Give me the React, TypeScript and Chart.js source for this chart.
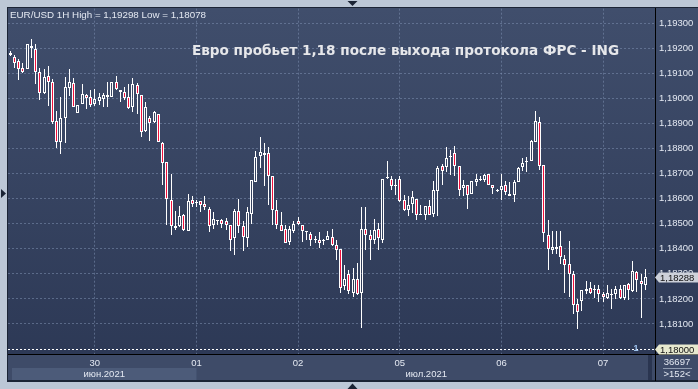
import React, { useEffect, useRef } from 'react';
import { Chart, registerables } from 'chart.js';

Chart.register(...registerables);

// ---- Data (EUR/USD 1H candles) ----
const opens = [
  1.19175, 1.19167, 1.19151, 1.19122, 1.19118, 1.19211, 1.19198, 1.19108, 1.19022, 1.19091,
  1.19065, 1.18912, 1.18828, 1.18921, 1.19042, 1.19062, 1.18941, 1.18978, 1.19014, 1.19005,
  1.18978, 1.18992, 1.18998, 1.19005, 1.19005, 1.19067, 1.19034, 1.19025, 1.19008, 1.18965,
  1.19055, 1.19014, 1.18872, 1.18923, 1.18905, 1.18939, 1.18823, 1.18746, 1.18597, 1.18484,
  1.18491, 1.18537, 1.18471, 1.18597, 1.18589, 1.18593, 1.18580, 1.18560, 1.18496, 1.18516,
  1.18514, 1.18510, 1.18494, 1.18445, 1.18551, 1.18490, 1.18443, 1.18540, 1.18666, 1.18770,
  1.18776, 1.18783, 1.18689, 1.18557, 1.18494, 1.18478, 1.18427, 1.18471, 1.18510, 1.18496,
  1.18470, 1.18458, 1.18438, 1.18434, 1.18434, 1.18434, 1.18447, 1.18414, 1.18398, 1.18252,
  1.18301, 1.18224, 1.18281, 1.18225, 1.18480, 1.18457, 1.18434, 1.18480, 1.18437, 1.18684,
  1.18677, 1.18656, 1.18680, 1.18596, 1.18557, 1.18580, 1.18600, 1.18540, 1.18536, 1.18570,
  1.18540, 1.18630, 1.18730, 1.18726, 1.18766, 1.18782, 1.18729, 1.18644, 1.18653, 1.18620,
  1.18666, 1.18676, 1.18673, 1.18697, 1.18653, 1.18636, 1.18633, 1.18653, 1.18620, 1.18613,
  1.18666, 1.18726, 1.18745, 1.18750, 1.18825, 1.18908, 1.18733, 1.18457, 1.18397, 1.18401,
  1.18413, 1.18361, 1.18341, 1.18298, 1.18178, 1.18192, 1.18232, 1.18245, 1.18235, 1.18241,
  1.18218, 1.18202, 1.18221, 1.18219, 1.18241, 1.18204, 1.18259, 1.18232, 1.18308, 1.18270,
  1.18255,
];
const highs = [
  1.19191, 1.19175, 1.19160, 1.19144, 1.19219, 1.19237, 1.19217, 1.19124, 1.19118, 1.19131,
  1.19078, 1.18949, 1.19008, 1.19087, 1.19118, 1.19084, 1.18976, 1.19058, 1.19018, 1.19034,
  1.19038, 1.19021, 1.19022, 1.19067, 1.19067, 1.19091, 1.19034, 1.19047, 1.19058, 1.19082,
  1.19061, 1.19014, 1.18985, 1.18932, 1.18952, 1.18939, 1.18825, 1.18746, 1.18697, 1.18553,
  1.18573, 1.18540, 1.18617, 1.18609, 1.18596, 1.18593, 1.18609, 1.18567, 1.18549, 1.18516,
  1.18520, 1.18523, 1.18494, 1.18560, 1.18600, 1.18511, 1.18569, 1.18673, 1.18790, 1.18848,
  1.18823, 1.18806, 1.18689, 1.18597, 1.18549, 1.18496, 1.18491, 1.18511, 1.18529, 1.18496,
  1.18470, 1.18467, 1.18450, 1.18467, 1.18441, 1.18471, 1.18478, 1.18434, 1.18398, 1.18337,
  1.18317, 1.18323, 1.18343, 1.18569, 1.18569, 1.18476, 1.18520, 1.18503, 1.18680, 1.18749,
  1.18690, 1.18677, 1.18690, 1.18616, 1.18610, 1.18629, 1.18600, 1.18577, 1.18573, 1.18597,
  1.18669, 1.18730, 1.18737, 1.18808, 1.18795, 1.18812, 1.18729, 1.18673, 1.18653, 1.18669,
  1.18697, 1.18689, 1.18697, 1.18697, 1.18656, 1.18640, 1.18697, 1.18669, 1.18666, 1.18673,
  1.18726, 1.18763, 1.18766, 1.18835, 1.18952, 1.18928, 1.18733, 1.18514, 1.18470, 1.18470,
  1.18470, 1.18377, 1.18430, 1.18310, 1.18199, 1.18237, 1.18270, 1.18268, 1.18255, 1.18255,
  1.18228, 1.18255, 1.18239, 1.18252, 1.18255, 1.18255, 1.18265, 1.18350, 1.18312, 1.18301,
  1.18321,
];
const lows = [
  1.19171, 1.19124, 1.19075, 1.19104, 1.19118, 1.19162, 1.19058, 1.18996, 1.19018, 1.18972,
  1.18899, 1.18802, 1.18779, 1.18821, 1.19012, 1.18965, 1.18941, 1.18978, 1.18959, 1.18965,
  1.18972, 1.18976, 1.18965, 1.18968, 1.19005, 1.19034, 1.18985, 1.18996, 1.18959, 1.18945,
  1.18939, 1.18848, 1.18868, 1.18832, 1.18901, 1.18825, 1.18653, 1.18494, 1.18457, 1.18474,
  1.18487, 1.18471, 1.18471, 1.18567, 1.18567, 1.18547, 1.18557, 1.18467, 1.18478, 1.18494,
  1.18484, 1.18474, 1.18391, 1.18374, 1.18465, 1.18391, 1.18407, 1.18498, 1.18666, 1.18723,
  1.18650, 1.18577, 1.18496, 1.18478, 1.18471, 1.18423, 1.18414, 1.18463, 1.18494, 1.18427,
  1.18434, 1.18410, 1.18423, 1.18405, 1.18417, 1.18434, 1.18410, 1.18357, 1.18224, 1.18235,
  1.18221, 1.18206, 1.18215, 1.18082, 1.18394, 1.18354, 1.18418, 1.18394, 1.18423, 1.18677,
  1.18633, 1.18616, 1.18586, 1.18553, 1.18533, 1.18544, 1.18517, 1.18536, 1.18514, 1.18536,
  1.18527, 1.18531, 1.18653, 1.18706, 1.18693, 1.18690, 1.18610, 1.18610, 1.18560, 1.18617,
  1.18649, 1.18669, 1.18666, 1.18653, 1.18620, 1.18626, 1.18597, 1.18613, 1.18610, 1.18586,
  1.18666, 1.18710, 1.18706, 1.18750, 1.18825, 1.18713, 1.18427, 1.18314, 1.18378, 1.18381,
  1.18341, 1.18224, 1.18208, 1.18138, 1.18078, 1.18152, 1.18219, 1.18221, 1.18204, 1.18186,
  1.18186, 1.18199, 1.18158, 1.18199, 1.18199, 1.18195, 1.18195, 1.18228, 1.18228, 1.18122,
  1.18237,
];
const closes = [
  1.19183, 1.19144, 1.19118, 1.19108, 1.19217, 1.19202, 1.19108, 1.19022, 1.19087, 1.19065,
  1.18905, 1.18828, 1.18921, 1.19047, 1.19067, 1.18965, 1.18976, 1.19018, 1.19002, 1.18976,
  1.18998, 1.19005, 1.19016, 1.19016, 1.19065, 1.19038, 1.19025, 1.19002, 1.18963, 1.19058,
  1.19018, 1.18868, 1.18965, 1.18903, 1.18945, 1.18828, 1.18742, 1.18600, 1.18491, 1.18491,
  1.18533, 1.18474, 1.18593, 1.18580, 1.18585, 1.18576, 1.18567, 1.18491, 1.18520, 1.18510,
  1.18500, 1.18494, 1.18434, 1.18553, 1.18491, 1.18447, 1.18549, 1.18673, 1.18768, 1.18788,
  1.18783, 1.18690, 1.18557, 1.18494, 1.18471, 1.18423, 1.18478, 1.18500, 1.18500, 1.18471,
  1.18466, 1.18434, 1.18435, 1.18425, 1.18431, 1.18451, 1.18417, 1.18394, 1.18245, 1.18281,
  1.18231, 1.18278, 1.18221, 1.18478, 1.18454, 1.18437, 1.18476, 1.18443, 1.18680, 1.18686,
  1.18650, 1.18652, 1.18590, 1.18556, 1.18577, 1.18606, 1.18536, 1.18536, 1.18573, 1.18536,
  1.18636, 1.18723, 1.18709, 1.18763, 1.18770, 1.18730, 1.18636, 1.18656, 1.18616, 1.18669,
  1.18680, 1.18680, 1.18693, 1.18656, 1.18644, 1.18632, 1.18649, 1.18626, 1.18610, 1.18666,
  1.18723, 1.18743, 1.18749, 1.18832, 1.18912, 1.18729, 1.18463, 1.18401, 1.18407, 1.18407,
  1.18367, 1.18337, 1.18301, 1.18175, 1.18148, 1.18237, 1.18241, 1.18225, 1.18237, 1.18221,
  1.18206, 1.18225, 1.18215, 1.18239, 1.18202, 1.18255, 1.18237, 1.18312, 1.18274, 1.18261,
  1.18288,
];

const emptySlots = 2;
const dayLabels = ['30', '01', '02', '05', '06', '07'];
const dayStartIndex = [20, 44, 68, 92, 116, 140];
const monthLabels = ['июн.2021', 'июл.2021'];
const monthStartIndex = [0, 44];
const yTickValues = [1.181, 1.182, 1.183, 1.184, 1.185, 1.186, 1.187, 1.188, 1.189, 1.19, 1.191, 1.192, 1.193];
const yMin = 1.1798;
const yMax = 1.19359;
const levelPrice = 1.18;
const levelLabel = '1';
const headerText = 'EUR/USD 1H High = 1,19298 Low = 1,18078';
const titleText = 'Евро пробьет 1,18 после выхода протокола ФРС - ING';
const barsTotalText = '36697';
const barsVisibleText = '>152<';

// ---- Styles ----
const W = 698;
const H = 389;
const FONT = '"Liberation Sans", Arial, sans-serif';
const TITLE_FONT = '"DejaVu Sans", Verdana, sans-serif';
const frameLight = '#bcc7d6';
const outline = '#1b2435';
const bgTop = '#404e6c';
const bgBottom = '#2d3956';
const axisPanel = '#3e4b68';
const monthBox = '#4c5b79';
const gridColor = 'rgba(125,143,176,0.55)';
const red = '#f0103c';
const white = '#ffffff';
const textLight = '#e4e9f2';

const fmt = (v: number) => v.toFixed(5).replace('.', ',');

const App: React.FC = () => {
  const ref = useRef<HTMLCanvasElement | null>(null);

  useEffect(() => {
    const canvas = ref.current;
    if (!canvas) return;
    const n = opens.length;
    const labels = Array.from({ length: n + emptySlots }, (_, i) => String(i));
    const bodyData = opens.map((o, i) => [o, closes[i]]);
    const upperWick = highs.map((h, i) => [Math.max(opens[i], closes[i]), h]);
    const lowerWick = lows.map((l, i) => [l, Math.min(opens[i], closes[i])]);
    const bodyFill = opens.map((o, i) => (closes[i] < o ? red : 'rgba(0,0,0,0)'));

    const snap = {
      id: 'snap',
      afterDatasetsUpdate(chart: any) {
        chart.data.datasets.forEach((_: any, di: number) => {
          const meta = chart.getDatasetMeta(di);
          meta.data.forEach((el: any) => {
            el.x = Math.floor(el.x) + 0.5;
            el.y = Math.round(el.y);
            el.base = Math.round(el.base);
          });
        });
      },
    };

    const frame = {
      id: 'frame',
      beforeDraw(chart: any) {
        const ctx = chart.ctx as CanvasRenderingContext2D;
        const area = chart.chartArea;
        const xs = chart.scales.x;
        ctx.save();
        ctx.fillStyle = frameLight;
        ctx.fillRect(0, 0, W, H);
        ctx.fillStyle = outline;
        ctx.fillRect(7, 7, W - 7, 375);
        const g = ctx.createLinearGradient(0, area.top, 0, area.bottom);
        g.addColorStop(0, bgTop);
        g.addColorStop(1, bgBottom);
        ctx.fillStyle = g;
        ctx.fillRect(8, 8, W - 8, area.bottom - 8);
        ctx.fillStyle = axisPanel;
        ctx.fillRect(8, area.bottom + 1, W - 8, 380 - area.bottom - 1);
        // june month box
        const mEnd = xs.getPixelForValue(monthStartIndex[1]);
        ctx.fillStyle = monthBox;
        ctx.fillRect(12, 368, mEnd - 12, 12);
        // separator in time panel
        ctx.fillStyle = '#2a3550';
        ctx.fillRect(648, area.bottom + 1, 4, 380 - area.bottom - 1);
        // triangles
        ctx.fillStyle = outline;
        ctx.beginPath();
        ctx.moveTo(347.5, 1); ctx.lineTo(357.5, 1); ctx.lineTo(352.5, 6); ctx.closePath(); ctx.fill();
        ctx.beginPath();
        ctx.moveTo(347.5, 389); ctx.lineTo(357.5, 389); ctx.lineTo(352.5, 383.5); ctx.closePath(); ctx.fill();
        ctx.beginPath();
        ctx.moveTo(1, 189); ctx.lineTo(1, 198); ctx.lineTo(6, 193.5); ctx.closePath(); ctx.fill();
        ctx.restore();
      },
      afterDraw(chart: any) {
        const ctx = chart.ctx as CanvasRenderingContext2D;
        const area = chart.chartArea;
        const xs = chart.scales.x;
        const ys = chart.scales.y;
        ctx.save();
        // level line
        const ly = Math.round(ys.getPixelForValue(levelPrice)) + 0.5;
        ctx.strokeStyle = white;
        ctx.lineWidth = 1;
        ctx.setLineDash([2, 2]);
        ctx.beginPath();
        ctx.moveTo(area.left, ly);
        ctx.lineTo(area.right, ly);
        ctx.stroke();
        ctx.setLineDash([]);
        ctx.font = `bold 9px ${FONT}`;
        ctx.fillStyle = '#9fc4ef';
        ctx.textAlign = 'center';
        ctx.textBaseline = 'middle';
        ctx.fillText(levelLabel, 636, ly - 1);
        // axis lines
        ctx.fillStyle = '#000000';
        ctx.fillRect(8, area.bottom, W - 8, 1);
        ctx.fillRect(area.right - 1, 8, 1, 373);
        // price tags
        const tag = (price: number, fill: string) => {
          const y = Math.round(ys.getPixelForValue(price));
          ctx.fillStyle = fill;
          ctx.beginPath();
          ctx.moveTo(area.right - 1, y + 0.5);
          ctx.lineTo(area.right + 3, y - 4.5);
          ctx.lineTo(W, y - 4.5);
          ctx.lineTo(W, y + 5.5);
          ctx.lineTo(area.right + 3, y + 5.5);
          ctx.closePath();
          ctx.fill();
          ctx.fillStyle = '#111111';
          ctx.font = `9.5px ${FONT}`;
          ctx.textAlign = 'left';
          ctx.textBaseline = 'middle';
          ctx.fillText(fmt(price), area.right + 4, y + 1);
        };
        tag(closes[closes.length - 1], '#cdd1da');
        tag(levelPrice, '#e7e9cf');
        // month labels
        ctx.fillStyle = textLight;
        ctx.font = `9.5px ${FONT}`;
        ctx.textAlign = 'center';
        ctx.textBaseline = 'middle';
        const m1 = xs.getPixelForValue(monthStartIndex[1]);
        ctx.fillText(monthLabels[0], (12 + m1) / 2, 374);
        ctx.fillText(monthLabels[1], (m1 + area.right) / 2, 374);
        // bottom right counters
        ctx.fillText(barsTotalText, 677, 362);
        ctx.fillText(barsVisibleText, 677, 374);
        ctx.fillStyle = '#8f9bb0';
        ctx.fillRect(663, 368, 29, 1);
        // header & title
        ctx.fillStyle = textLight;
        ctx.textAlign = 'left';
        ctx.textBaseline = 'alphabetic';
        ctx.font = `9.8px ${FONT}`;
        ctx.fillText(headerText, 10, 18);
        ctx.fillStyle = '#e6e7ea';
        ctx.font = `bold 13.6px ${TITLE_FONT}`;
        ctx.textAlign = 'center';
        ctx.fillText(titleText, 405.5, 55);
        ctx.restore();
      },
    };

    const chart = new Chart(canvas, {
      type: 'bar',
      data: {
        labels,
        datasets: [
          {
            data: bodyData as any,
            backgroundColor: bodyFill,
            borderColor: white,
            borderWidth: 1,
            borderSkipped: false,
            barThickness: 3,
            minBarLength: 1,
            grouped: false,
            inflateAmount: 0,
            order: 0,
          } as any,
          {
            data: upperWick as any,
            backgroundColor: white,
            borderWidth: 0,
            barThickness: 1,
            grouped: false,
            inflateAmount: 0,
            order: 1,
          } as any,
          {
            data: lowerWick as any,
            backgroundColor: white,
            borderWidth: 0,
            barThickness: 1,
            grouped: false,
            inflateAmount: 0,
            order: 2,
          } as any,
        ],
      },
      options: {
        responsive: false,
        animation: false,
        events: [],
        layout: { padding: { left: 8, top: 8, right: 0, bottom: 0 } },
        plugins: { legend: { display: false }, tooltip: { enabled: false } },
        scales: {
          x: {
            type: 'category',
            offset: true,
            afterFit: (s: any) => { s.height = 35; },
            afterBuildTicks: (s: any) => { s.ticks = dayStartIndex.map((v) => ({ value: v })); },
            grid: { offset: false, color: gridColor, lineWidth: 1, drawTicks: false },
            border: { display: false, dash: [2, 2] },
            ticks: {
              autoSkip: false,
              maxRotation: 0,
              padding: 4,
              color: textLight,
              font: { size: 9.5, family: FONT },
              callback: (v: any) => dayLabels[dayStartIndex.indexOf(Number(v))] ?? '',
            },
          },
          y: {
            type: 'linear',
            position: 'right',
            min: yMin,
            max: yMax,
            afterFit: (s: any) => { s.width = 42; },
            afterBuildTicks: (s: any) => { s.ticks = yTickValues.map((v) => ({ value: v })); },
            grid: { color: gridColor, lineWidth: 1, drawTicks: false },
            border: { display: false, dash: [2, 2] },
            ticks: {
              padding: 3,
              color: textLight,
              font: { size: 9.5, family: FONT },
              callback: (v: any) => fmt(Number(v)),
            },
          },
        },
      } as any,
      plugins: [snap, frame],
    });
    return () => chart.destroy();
  }, []);

  return (
    <div style={{ position: 'fixed', left: 0, top: 0, width: W, height: H }}>
      <canvas ref={ref} width={W} height={H} style={{ display: 'block' }} />
    </div>
  );
};

export default App;
